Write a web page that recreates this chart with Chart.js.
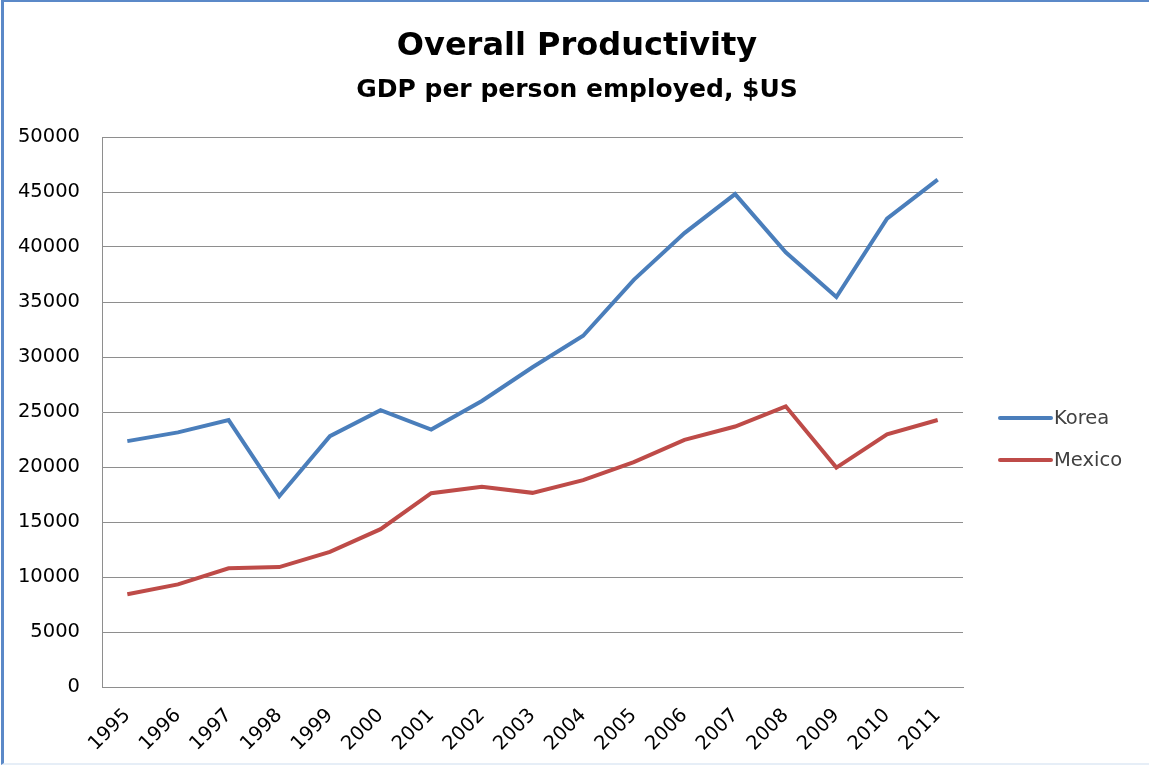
<!DOCTYPE html>
<html>
<head>
<meta charset="utf-8">
<script src="https://cdn.jsdelivr.net/npm/chart.js@4.4.1/dist/chart.umd.min.js"></script>
<style>
  html, body { margin: 0; padding: 0; background: #ffffff; }
  #wrap { position: relative; width: 1149px; height: 767px; overflow: hidden; }
  #c { position: absolute; left: 0; top: 0; }
  #frame { position: absolute; left: 1px; top: 0; width: 1148px; height: 765px;
           border-left: 3px solid #5b89c8; border-top: 2px solid #5b89c8;
           border-bottom: 2px solid #e6eef7; box-sizing: border-box; pointer-events: none; }
</style>
</head>
<body>
<div id="wrap">
  <canvas id="c" width="1149" height="767"></canvas>
  <div id="frame"></div>
</div>
<script>
const years = ['1995','1996','1997','1998','1999','2000','2001','2002','2003','2004','2005','2006','2007','2008','2009','2010','2011'];
const korea = [22350, 23150, 24270, 17340, 22800, 25170, 23400, 26000, 29070, 31930, 37010, 41260, 44810, 39520, 35450, 42580, 46130];
const mexico = [8430, 9330, 10790, 10900, 12290, 14350, 17620, 18210, 17650, 18800, 20440, 22460, 23680, 25520, 19950, 22980, 24270];
const yTicks = [0, 5000, 10000, 15000, 20000, 25000, 30000, 35000, 40000, 45000, 50000];
const titleText = 'Overall Productivity';
const subtitleText = 'GDP per person employed, $US';

const FONT = "'DejaVu Sans', Verdana, sans-serif";

const legendPlugin = {
  id: 'sideLegend',
  afterDraw(chart) {
    const ctx = chart.ctx;
    const area = chart.chartArea;
    const x0 = area.right + 37;
    const lineLen = 51;
    const midY = (area.top + area.bottom) / 2;
    const rows = [midY + 6, midY + 48];
    ctx.save();
    chart.data.datasets.forEach((ds, i) => {
      const y = rows[i];
      ctx.strokeStyle = ds.borderColor;
      ctx.lineWidth = 4;
      ctx.lineCap = 'round';
      ctx.beginPath();
      ctx.moveTo(x0, y);
      ctx.lineTo(x0 + lineLen, y);
      ctx.stroke();
      ctx.fillStyle = '#404040';
      ctx.font = '19.5px ' + FONT;
      ctx.textAlign = 'left';
      ctx.textBaseline = 'middle';
      ctx.fillText(ds.label, x0 + lineLen + 3, y + 1);
    });
    ctx.restore();
  }
};

new Chart(document.getElementById('c'), {
  type: 'line',
  data: {
    labels: years,
    datasets: [
      { label: 'Korea', data: korea, borderColor: '#4a7ebb', backgroundColor: '#4a7ebb',
        borderWidth: 4, pointRadius: 0, tension: 0, fill: false, yAxisID: 'y' },
      { label: 'Mexico', data: mexico, borderColor: '#be4b48', backgroundColor: '#be4b48',
        borderWidth: 4, pointRadius: 0, tension: 0, fill: false, yAxisID: 'y' }
    ]
  },
  options: {
    responsive: false,
    animation: false,
    devicePixelRatio: 1,
    layout: { padding: { left: 5, right: 0, top: 0, bottom: 0 } },
    plugins: {
      legend: { display: false },
      tooltip: { enabled: false },
      title: {
        display: true, text: titleText, color: '#000000',
        font: { family: FONT, size: 32, weight: 'bold', lineHeight: 1.2 },
        padding: { top: 27, bottom: 0 }
      },
      subtitle: {
        display: true, text: subtitleText, color: '#000000',
        font: { family: FONT, size: 25, weight: 'bold', lineHeight: 1.2 },
        padding: { top: 10, bottom: 31.6 }
      }
    },
    scales: {
      x: {
        offset: true,
        grid: { display: false, drawTicks: false },
        border: { display: true, color: '#8e8e8e', width: 1 },
        ticks: {
          color: '#000000', font: { family: FONT, size: 19.5 },
          maxRotation: 45, minRotation: 45, padding: 17, autoSkip: false
        },
        afterFit(scale) { scale.height = 80; }
      },
      y: {
        min: 0, max: 50000,
        afterBuildTicks(scale) { scale.ticks = yTicks.map(v => ({ value: v })); },
        grid: { color: '#8e8e8e', lineWidth: 1, drawTicks: false },
        border: { display: true, color: '#8e8e8e', width: 1 },
        ticks: { color: '#000000', font: { family: FONT, size: 19.5 }, padding: 22,
                 callback: (v) => String(v) },
        afterFit(scale) { scale.width = 97; }
      },
      ySpace: {
        position: 'right', display: true, min: 0, max: 1,
        grid: { display: false, drawTicks: false },
        border: { display: false },
        ticks: { display: false },
        afterFit(scale) { scale.width = 186; }
      }
    }
  },
  plugins: [legendPlugin]
});
</script>
</body>
</html>
